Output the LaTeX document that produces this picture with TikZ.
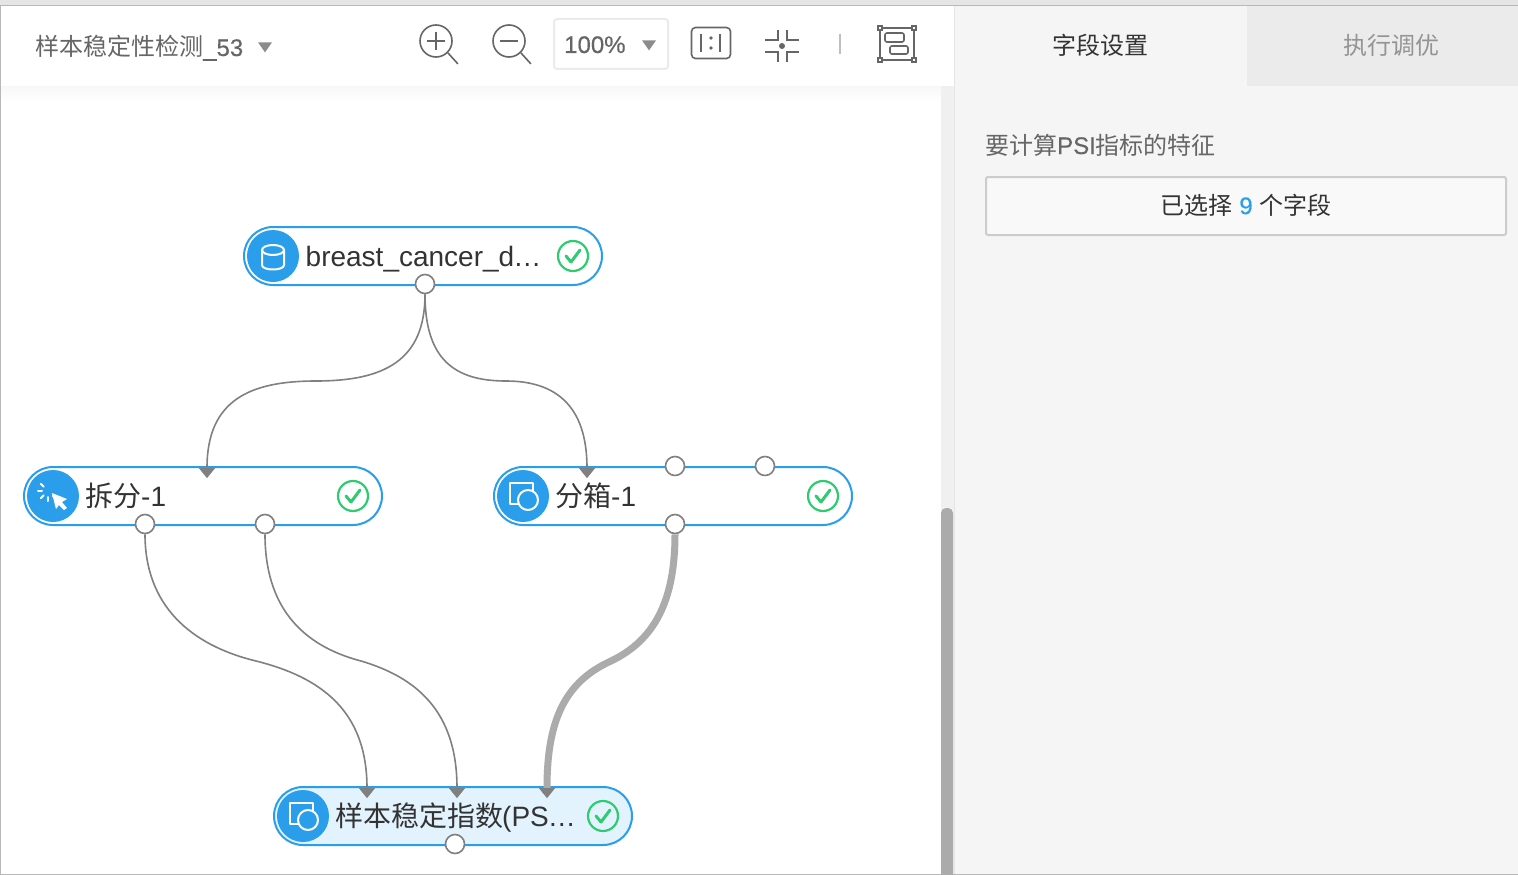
\documentclass[tikz,border=0pt]{standalone}
\usepackage{fontspec}
\setmainfont{Liberation Sans}
\newfontfamily\cjk{Noto Sans CJK SC}
\newfontfamily\semi[FakeBold=0.4]{Liberation Sans}
\usetikzlibrary{positioning,shapes.geometric}
\definecolor{pillblue}{HTML}{2A9EEA}
\definecolor{pilllight}{HTML}{E3F3FE}
\definecolor{okgreen}{HTML}{2FCB71}
\definecolor{wiregray}{HTML}{808080}
\definecolor{thickgray}{HTML}{ABABAB}
\definecolor{toolgray}{HTML}{666666}
\definecolor{panelgray}{HTML}{F5F5F5}
\newcommand{\zh}[1]{{\cjk #1}}
\tikzset{
    pill/.style={rectangle, rounded corners=29pt, minimum width=358pt, minimum height=58pt,
        draw=pillblue, line width=2pt, fill=white},
    iconball/.style={circle, fill=pillblue, minimum size=52pt, inner sep=0pt},
    okball/.style={circle, draw=okgreen, line width=2.2pt, minimum size=30pt, inner sep=0pt},
    okline/.style={draw=okgreen, line width=3pt, line cap=round, line join=round},
    pilltext/.style={anchor=base west, inner sep=0pt, text=black!80, font=\fontsize{28}{28}\selectfont},
    port/.style={circle, draw=wiregray, line width=1.6pt, fill=white, minimum size=19pt, inner sep=0pt},
    intip/.style={isosceles triangle, isosceles triangle apex angle=78, shape border rotate=-90,
        fill=wiregray, minimum height=10pt, minimum width=16pt, inner sep=0pt},
    wire/.style={draw=wiregray, line width=1.6pt},
    heavywire/.style={draw=thickgray, line width=7pt},
    toolline/.style={draw=toolgray, line width=1.6pt},
    caret/.style={isosceles triangle, isosceles triangle apex angle=70, shape border rotate=-90,
        fill=black!45, minimum height=9pt, minimum width=14pt, inner sep=0pt},
    uitext/.style={inner sep=0pt, font=\fontsize{24}{24}\selectfont},
    whiteline/.style={draw=white, line width=2pt, line join=round, line cap=round},
}
\begin{document}
\begin{tikzpicture}[x=1pt, y=-1pt]
    \useasboundingbox (0,0) rectangle (1518,875);

    % page and panels
    \fill[white] (0,0) rectangle (1518,875);
    \fill[black!10] (0,0) rectangle (1518,5);
    \fill[black!28] (0,5) rectangle (1518,6);
    \fill[black!28] (0,6) rectangle (1,875);
    \fill[black!28] (0,874) rectangle (1518,875);
    \shade[top color=black!3, bottom color=white] (1,86) rectangle (941,102);
    \fill[black!6] (941,86) rectangle (954,874);
    \fill[black!33, rounded corners=5pt] (941,508) rectangle (953,890);
    \fill[panelgray] (955,6) rectangle (1518,874);
    \fill[black!8] (1247,6) rectangle (1518,86);
    \fill[black!10] (954,6) rectangle (955,874);

    % toolbar
    \node[uitext, anchor=base west, text=toolgray] (title) at (35,56) {\zh{样本稳定性检测}{\semi\_53}};
    \node[caret] (titlecaret) at (265,46) {};

    \node[circle, toolline, minimum size=32pt, inner sep=0pt] (zoomin) at (436,41) {};
    \draw[toolline] (zoomin.center) +(-9,0) -- +(9,0) (zoomin.center) +(0,-9) -- +(0,9);
    \draw[toolline] (zoomin.-45) -- ++(10,11);
    \node[circle, toolline, minimum size=32pt, inner sep=0pt] (zoomout) at (509,41) {};
    \draw[toolline] (zoomout.center) +(-9,0) -- +(9,0);
    \draw[toolline] (zoomout.-45) -- ++(10,11);

    \node[rectangle, rounded corners=3pt, draw=black!8, line width=2pt, minimum width=114pt, minimum height=50pt] (zoombox) at (611,44) {};
    \node[uitext, anchor=base west, text=toolgray] (zoomval) at (564,53) {\semi 100\%};
    \node[caret] (zoomcaret) at (649,44) {};

    \node[rectangle, rounded corners=4pt, toolline, minimum width=39pt, minimum height=31pt] (oneone) at (711,43) {};
    \draw[toolline] (701,34) -- (701,52) (720,34) -- (720,52);
    \fill[toolgray] (711,38) circle (1.8pt) (711,48) circle (1.8pt);

    \fill[toolgray] (782,46) circle (3pt);
    \draw[toolline] (765,40) -- (778,40) -- (778,30);
    \draw[toolline] (799,40) -- (787,40) -- (787,30);
    \draw[toolline] (765,52) -- (778,52) -- (778,62);
    \draw[toolline] (799,52) -- (787,52) -- (787,62);
    \draw[black!25, line width=1.6pt] (840,34) -- (840,54);

    \draw[toolline] (880,28) rectangle (914,60);
    \draw[toolline, rounded corners=2pt] (885,33) rectangle (904,42);
    \draw[toolline, rounded corners=2pt] (890,46) rectangle (908,54);
    \foreach \cx/\cy in {880/28,914/28,880/60,914/60}
        \draw[draw=toolgray, fill=white, line width=1.2pt] (\cx-2,\cy-2) rectangle (\cx+2,\cy+2);

    % right panel
    \node[uitext, text=black!80] (tabfield) at (1100,45) {\zh{字段设置}};
    \node[uitext, text=black!42] (tabtune) at (1391,45) {\zh{执行调优}};
    \node[uitext, anchor=base west, text=toolgray] (psilabel) at (985,154) {\zh{要计算}{\semi PSI}\zh{指标的特征}};
    \node[rectangle, rounded corners=2pt, draw=black!20, line width=2pt, fill=black!2.5,
        minimum width=520pt, minimum height=58pt] (fieldbtn) at (1246,206) {};
    \node[uitext, text=black!80] (fieldtext) at (1246,205) {\zh{已选择} {\semi\textcolor{pillblue}{9}} \zh{个字段}};

    % module nodes
    \node[pill] (data) at (423,256) {};
    \node[pill] (split) at (203,496) {};
    \node[pill] (bin) at (673,496) {};
    \node[pill, fill=pilllight] (psi) at (453,816) {};

    \node[iconball] (dataicon) at (273,256) {};
    \node[iconball] (spliticon) at (53,496) {};
    \node[iconball] (binicon) at (523,496) {};
    \node[iconball] (psiicon) at (303,816) {};

    \node[pilltext] (datatext) at (305.5,266) {breast\_cancer\_d\kern-1pt…};
    \node[pilltext] (splittext) at (85,506) {\zh{拆分}-1};
    \node[pilltext] (bintext) at (555,506) {\zh{分箱}-1};
    \node[pilltext] (psitext) at (335,826) {\zh{样本稳定指数}\kern-1pt(PS\kern-1pt…};

    \foreach \n/\cx/\cy in {data/573/256, split/353/496, bin/823/496, psi/603/816} {
        \node[okball] (ok\n) at (\cx,\cy) {};
        \draw[okline] ([shift={(-7,0)}]ok\n.center) -- ++(5,6) -- ++(9,-12);
    }

    % icons
    \draw[whiteline] (262,250) -- (262,265) .. controls (262,271) and (284,271) .. (284,265) -- (284,250);
    \draw[whiteline] (273,250) ellipse (11pt and 5pt);
    \foreach \a/\rr in {180/6,135/6,90/6,45/7,225/6}
        \draw[whiteline] (48,491) ++(\a:\rr) -- ++(\a:4);
    \fill[white] (52,493) -- (67,499) -- (62,502) -- (67,508) -- (64,510) -- (59,505) -- (56,509) -- cycle;
    \foreach \n/\cx/\cy in {bin/523/496, psi/303/816} {
        \draw[whiteline] (\cx-13,\cy-13) rectangle (\cx+10,\cy+8);
        \draw[whiteline, fill=pillblue] (\cx+5,\cy+4) circle (10pt);
    }

    % ports and input tips
    \node[port] (dataout) at (425,284) {};
    \node[port] (splitouta) at (145,524) {};
    \node[port] (splitoutb) at (265,524) {};
    \node[port] (binout) at (675,524) {};
    \node[port] (binauxa) at (675,466) {};
    \node[port] (binauxb) at (765,466) {};
    \node[port] (psiout) at (455,844) {};

    \node[intip] (splitin) at (207,472) {};
    \node[intip] (binin) at (587,472) {};
    \node[intip] (psiina) at (367,792) {};
    \node[intip] (psiinb) at (457,792) {};
    \node[intip] (psiinc) at (547,792) {};

    % connectors
    \draw[wire] (dataout.south) .. controls (425,360) and (385,381) .. (316,381)
        .. controls (250,381) and (207,400) .. (splitin.north);
    \draw[wire] (dataout.south) .. controls (425,360) and (455,381) .. (506,381)
        .. controls (555,381) and (587,405) .. (binin.north);
    \draw[wire] (splitouta.south) .. controls (145,605) and (190,645) .. (256,661)
        .. controls (320,677) and (367,710) .. (psiina.north);
    \draw[wire] (splitoutb.south) .. controls (265,605) and (300,645) .. (361,661)
        .. controls (415,677) and (457,710) .. (psiinb.north);
    \draw[heavywire] (binout.south) .. controls (675,600) and (655,640) .. (611,661)
        .. controls (565,682) and (547,720) .. (psiinc.north);
\end{tikzpicture}
\end{document}
